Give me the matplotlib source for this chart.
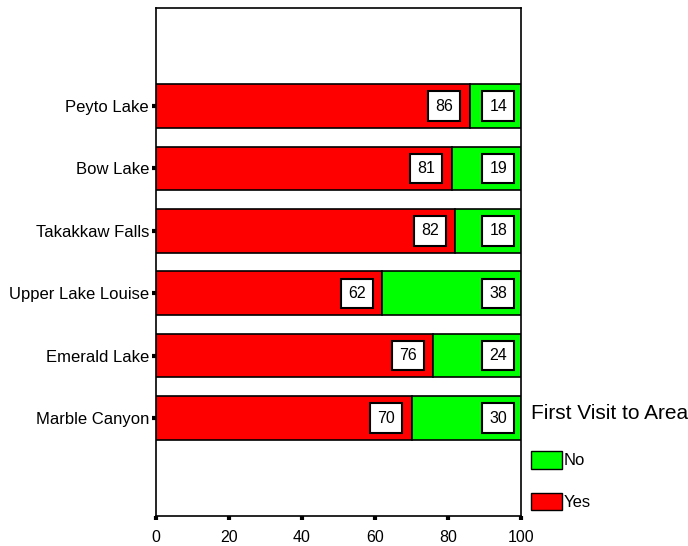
import numpy as np
import matplotlib
matplotlib.use("Agg")
import matplotlib.pyplot as plt
from matplotlib.patches import Patch

# ── Data ──────────────────────────────────────────────────
sites    = ["Marble Canyon", "Emerald Lake", "Upper Lake Louise",
            "Takakkaw Falls", "Bow Lake", "Peyto Lake"]
yes_pct  = [70, 76, 62, 82, 81, 86]
no_pct   = [30, 24, 38, 18, 19, 14]
x_ticks  = [0, 20, 40, 60, 80, 100]

RED   = "#FF0000"
GREEN = "#00FF00"

plt.rcParams["font.family"] = ["Liberation Sans", "DejaVu Sans"]

fig = plt.figure(figsize=(6.88, 5.46), dpi=100)
ax  = fig.add_axes([0.2267, 0.0549, 0.5306, 0.9304])

y = np.arange(len(sites))
ax.barh(y, yes_pct, height=0.7, color=RED, edgecolor="black", linewidth=1.2)
ax.barh(y, no_pct, left=yes_pct, height=0.7, color=GREEN,
        edgecolor="black", linewidth=1.2)

# white value boxes, right-aligned inside each segment
box = dict(boxstyle="square,pad=0.45", fc="white", ec="black", lw=1.5)
for yi, a, b in zip(y, yes_pct, no_pct):
    ax.annotate(f"{a}", (a, yi), xytext=(-12, 0), textcoords="offset points",
                ha="right", va="center", fontsize=11.5, bbox=box)
    ax.annotate(f"{b}", (a + b, yi), xytext=(-10, 0), textcoords="offset points",
                ha="right", va="center", fontsize=11.5, bbox=box)

ax.set_xlim(0, 100)
ax.set_ylim(-1.57, len(sites) - 1 + 1.57)
ax.set_xticks(x_ticks)
ax.set_yticks(y)
ax.set_yticklabels(sites)
ax.tick_params(axis="both", length=3, width=3, colors="black")
ax.tick_params(axis="x", pad=7, labelsize=11.5)
ax.tick_params(axis="y", pad=2, labelsize=12)
for s in ax.spines.values():
    s.set_linewidth(1.2)

handles = [Patch(fc=GREEN, ec="black", label="No"),
           Patch(fc=RED, ec="black", label="Yes")]
leg = ax.legend(handles=handles, title="First Visit to Area",
                loc="upper left", bbox_to_anchor=(0.995, 0.243),
                frameon=False, fontsize=12, title_fontsize=15,
                handlelength=1.85, handleheight=1.25, handletextpad=0.1,
                labelspacing=1.45, borderaxespad=0.3)
leg._legend_box.align = "left"
leg._legend_box.sep = 20

fig.savefig("out.png", dpi=100)
